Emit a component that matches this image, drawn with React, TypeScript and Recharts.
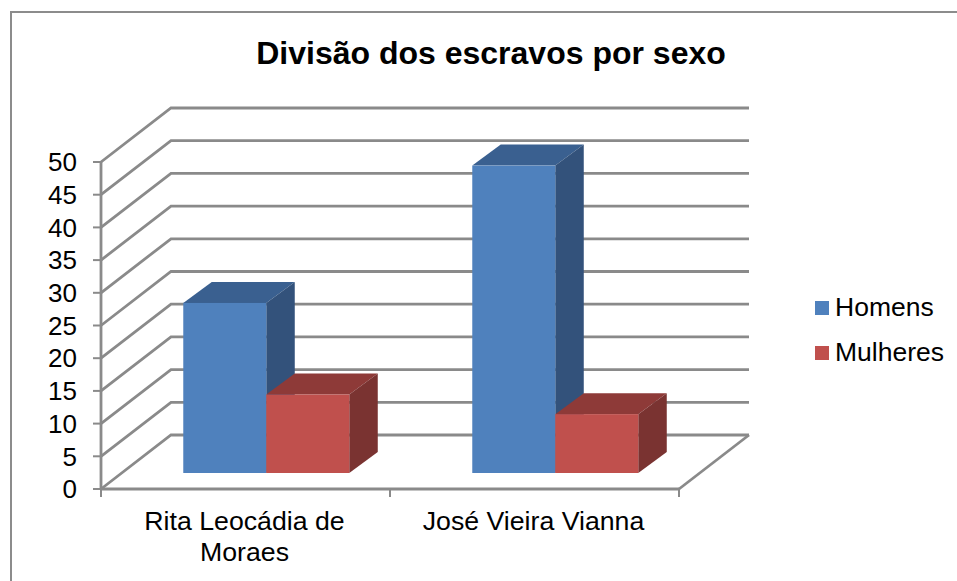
import React from 'react';
import { BarChart, Bar, XAxis, YAxis, CartesianGrid, Legend } from 'recharts';

const categories = ['Rita Leocádia de Moraes', 'José Vieira Vianna'];
const categoryLines = [['Rita Leocádia de', 'Moraes'], ['José Vieira Vianna']];
const homens = [26, 47];
const mulheres = [12, 9];
const yTicks = [0, 5, 10, 15, 20, 25, 30, 35, 40, 45, 50];

const data = categories.map((name, i) => ({ name, Homens: homens[i], Mulheres: mulheres[i] }));

const WIDTH = 957;
const HEIGHT = 581;
const FONT = '"Liberation Sans", Arial, sans-serif';
const GRID = '#8a8a8a';

const margin = { top: 162, right: 278, bottom: 92, left: 101 };
const plotBottom = HEIGHT - margin.bottom;
const plotWidth = WIDTH - margin.left - margin.right;
const bandWidth = plotWidth / categories.length;

// depth of the fake 3D box, and of the bars standing in it
const wallDx = 70;
const wallDy = -54;
const barShiftX = 21;
const barShiftY = -16;
const barDx = 28.5;
const barDy = -21;

const GridLine = (props: any) => {
  const { x1, x2, y1, key } = props;
  const isFloor = Math.abs(y1 - plotBottom) < 1;
  return (
    <g key={key}>
      <polyline
        points={`${x1},${y1} ${x1 + wallDx},${y1 + wallDy} ${x2 + wallDx},${y1 + wallDy}`}
        fill="none"
        stroke={GRID}
        strokeWidth={2.8}
      />
      {isFloor && <line x1={x2} y1={y1} x2={x2 + wallDx} y2={y1 + wallDy} stroke={GRID} strokeWidth={2.8} />}
    </g>
  );
};

const Box = (front: string, side: string, top: string) => (props: any) => {
  const { x, y, width, height } = props;
  const l = x + barShiftX;
  const r = l + width;
  const t = y + barShiftY;
  const b = t + height;
  return (
    <g>
      <polygon points={`${l},${t} ${r},${t} ${r + barDx},${t + barDy} ${l + barDx},${t + barDy}`} fill={top} />
      <polygon points={`${r},${t} ${r + barDx},${t + barDy} ${r + barDx},${b + barDy} ${r},${b}`} fill={side} />
      <rect x={l} y={t} width={width} height={height} fill={front} />
    </g>
  );
};

const CategoryTick = (props: any) => {
  const { x, index } = props;
  const left = x - bandWidth / 2;
  const right = x + bandWidth / 2;
  return (
    <g>
      <line x1={left} y1={plotBottom} x2={left} y2={plotBottom + 8} stroke={GRID} strokeWidth={2} />
      {index === categories.length - 1 && (
        <line x1={right} y1={plotBottom} x2={right} y2={plotBottom + 8} stroke={GRID} strokeWidth={2} />
      )}
      <text textAnchor="middle" fill="#000" fontSize={26.7} fontFamily={FONT}>
        {categoryLines[index].map((line, i) => (
          <tspan key={line} x={x - 1} y={plotBottom + 41 + i * 31}>
            {line}
          </tspan>
        ))}
      </text>
    </g>
  );
};

const LegendList = (props: any) => (
  <div style={{ fontFamily: FONT, fontSize: 26.5, color: '#000' }}>
    {props.payload.map((item: any) => (
      <div key={item.value} style={{ display: 'flex', alignItems: 'center', height: 45 }}>
        <span style={{ width: 14, height: 14, background: item.color, marginRight: 6 }} />
        {item.value}
      </div>
    ))}
  </div>
);

export default function App() {
  return (
    <div style={{ position: 'absolute', left: 0, top: 0, width: WIDTH, height: HEIGHT, overflow: 'hidden', background: '#fff' }}>
      <div
        style={{
          position: 'absolute',
          left: 10,
          top: 11,
          width: WIDTH + 20,
          height: HEIGHT + 20,
          border: '2px solid #8c8c8c',
        }}
      />
      <div
        style={{
          position: 'absolute',
          left: 0,
          width: 982,
          top: 34,
          textAlign: 'center',
          fontFamily: FONT,
          fontWeight: 'bold',
          fontSize: 32,
          lineHeight: '38px',
          color: '#000',
        }}
      >
        Divisão dos escravos por sexo
      </div>
      <BarChart
        width={WIDTH}
        height={HEIGHT}
        data={data}
        margin={{ top: margin.top, right: margin.right, bottom: 0, left: 0 }}
        barGap={0}
        barCategoryGap="21.2%"
        style={{ position: 'absolute', left: 0, top: 0 }}
      >
        <CartesianGrid vertical={false} horizontal={GridLine} />
        <XAxis
          dataKey="name"
          interval={0}
          height={margin.bottom}
          tickLine={false}
          axisLine={{ stroke: GRID, strokeWidth: 2.8 }}
          tick={CategoryTick}
        />
        <YAxis
          width={margin.left}
          domain={[0, 50]}
          ticks={yTicks}
          interval={0}
          tickSize={8}
          tickMargin={16}
          axisLine={{ stroke: GRID, strokeWidth: 2.8 }}
          tickLine={{ stroke: GRID, strokeWidth: 2 }}
          tick={{ fill: '#000', fontSize: 26, fontFamily: FONT }}
        />
        <Bar dataKey="Homens" fill="#4F81BD" isAnimationActive={false} shape={Box('#4F81BD', '#33527B', '#3A6090')} />
        <Bar dataKey="Mulheres" fill="#C0504D" isAnimationActive={false} shape={Box('#C0504D', '#7A3331', '#8E3A38')} />
        <Legend
          layout="horizontal"
          verticalAlign="middle"
          align="center"
          content={LegendList}
          wrapperStyle={{ left: 815, top: 285, width: 140 }}
        />
      </BarChart>
    </div>
  );
}
